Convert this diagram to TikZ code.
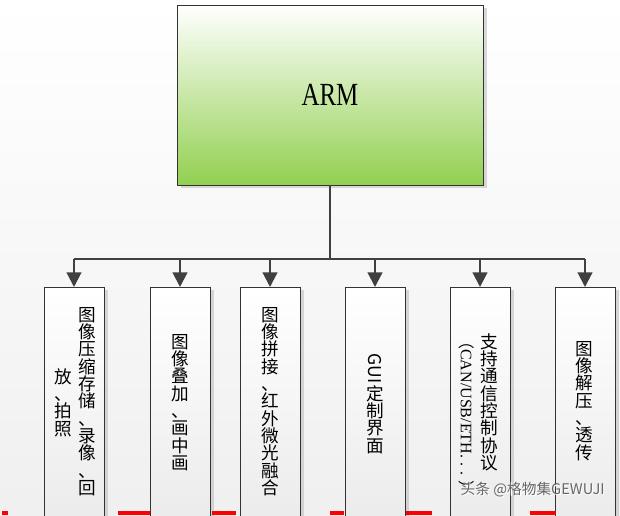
\documentclass[tikz,border=0pt]{standalone}
\usepackage{fontspec}
\newfontfamily\cjk{Noto Sans CJK SC}
\setmainfont{Liberation Serif}
\usetikzlibrary{arrows.meta,shadows}
\definecolor{line}{HTML}{404040}
\definecolor{armgreen}{HTML}{92D050}
\tikzset{
 box/.style={draw=black!80,line width=0.6pt,top color=white,bottom color=black!8,minimum width=60*0.75pt,minimum height=240*0.75pt,anchor=north,inner sep=0pt,
   drop shadow={shadow xshift=3pt,shadow yshift=-2pt,fill=black!25,opacity=0.6}},
 vcol/.style={font=\cjk\fontsize{13.2}{13}\selectfont,align=center,inner sep=0pt,anchor=north},
 conn/.style={draw=line,line width=1.6pt},
 arr/.style={conn,-{Triangle[length=11pt,width=11pt]}}
}
\begin{document}
\begin{tikzpicture}[x=0.75pt,y=-0.75pt]
\useasboundingbox (0,0) rectangle (620,515);
\clip (0,0) rectangle (620,515);
\fill[top color=white,bottom color=black!6] (0,0) rectangle (620,515);
\node[draw=black!80,line width=0.6pt,top color=white,bottom color=armgreen,minimum width=306*0.75pt,minimum height=180*0.75pt,
  drop shadow={shadow xshift=3pt,shadow yshift=-2pt,fill=black!25,opacity=0.6}] (arm) at (330,95) {\fontsize{22}{24}\selectfont\scalebox{0.85}[1.1]{ARM}};
\coordinate (j) at (330,259);
\node[box] (b1) at (74,287) {};
\node[box] (b2) at (180,287) {};
\node[box] (b3) at (270,287) {};
\node[box] (b4) at (375,287) {};
\node[box] (b5) at (480,287) {};
\node[box] (b6) at (585,287) {};
\coordinate (hl) at (b1.north |- j);
\coordinate (hr) at (b6.north |- j);
\draw[conn] (arm.south) -- (j);
\draw[conn] (hl) -- (hr);
\foreach \b in {b1,b2,b3,b4,b5,b6} \draw[arr] (\b.north |- j) -- (\b.north);
% texts
\node[vcol] (t1a) at (87,307) {图\\像\\压\\缩\\存\\储\\、\\录\\像\\、\\回};
\node[vcol] (t1b) at (63,368) {放\\、\\拍\\照};
\node[vcol] (t2) at (180,334) {图\\像\\叠\\加\\、\\画\\中\\画};
\node[vcol] (t3) at (270,307) {图\\像\\拼\\接\\、\\红\\外\\微\\光\\融\\合};
\node[vcol] (t4a) at (375,353) {\rotatebox{-90}{GUI}};
\node[vcol] (t4b) at ([yshift=-1pt]t4a.south) {定\\制\\界\\面};
\node[vcol] (t5a) at (489,333) {支\\持\\通\\信\\控\\制\\协\\议};
\node[font=\fontsize{12}{13}\selectfont,rotate=-90,anchor=west,inner sep=0pt] (t5b) at (467,333) {{\cjk （}CAN/USB/ETH. . . {\cjk ）}};
\node[vcol] (t6) at (584,341) {图\\像\\解\\压\\、\\透\\传};
\foreach \a/\b in {118/150,212/236,330/344,406/432,530/556,2/8}
  \draw[red,line width=3pt] (\a,513) -- (\b,513);
\node[font=\cjk\fontsize{11}{12}\selectfont,text=white,anchor=east,inner sep=0pt] (wm) at (606,491) {头条 @格物集GEWUJI};
\node[font=\cjk\fontsize{11}{12}\selectfont,text=black!60,anchor=east,inner sep=0pt] (wm2) at (605,490) {头条 @格物集GEWUJI};
\end{tikzpicture}
\end{document}
